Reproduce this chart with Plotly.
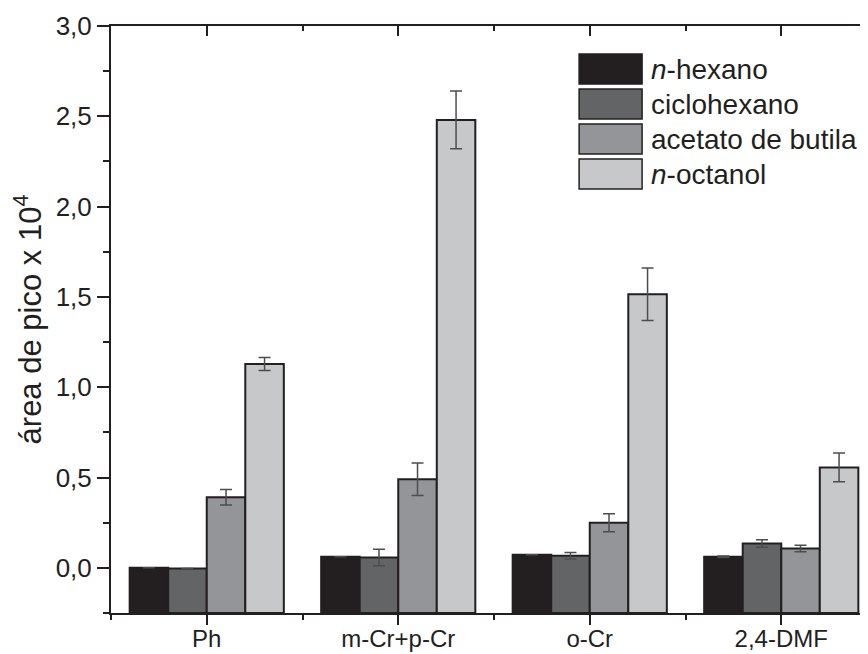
import plotly.graph_objects as go

categories = ["Ph", "m-Cr+p-Cr", "o-Cr", "2,4-DMF"]
series_names = ["<i>n</i>-hexano", "ciclohexano", "acetato de butila", "<i>n</i>-octanol"]
n_hexano = [0.0, 0.061, 0.072, 0.061]
n_hexano_err = [0.0, 0.0, 0.0, 0.004]
ciclohexano = [-0.004, 0.057, 0.067, 0.135]
ciclohexano_err = [0.0, 0.046, 0.018, 0.021]
acetato = [0.391, 0.49, 0.25, 0.107]
acetato_err = [0.043, 0.09, 0.05, 0.018]
octanol = [1.128, 2.48, 1.515, 0.556]
octanol_err = [0.036, 0.16, 0.145, 0.08]
y_ticks = [0.0, 0.5, 1.0, 1.5, 2.0, 2.5, 3.0]

colors = ["#231f20", "#636466", "#939598", "#c7c8ca"]
values = [n_hexano, ciclohexano, acetato, octanol]
errors = [n_hexano_err, ciclohexano_err, acetato_err, octanol_err]

BASE = -0.25
YMAX = 3.0

# page body has an 8px margin: layout measured in screen pixels, converted below
OFF = 8
SCR_W, SCR_H = 868, 654
P_LEFT, P_TOP, P_BOTTOM, P_RIGHT = 110.7, 26, 612.7, 877
FIG_W = P_RIGHT - OFF + 8
FIG_H = SCR_H - OFF
ML = P_LEFT - OFF
MT = P_TOP - OFF
MB = FIG_H - (P_BOTTOM - OFF)
MR = FIG_W - (P_RIGHT - OFF)
plot_w = P_RIGHT - P_LEFT
plot_h = P_BOTTOM - P_TOP
x_lo, x_hi = -0.5, len(categories) - 0.5

INK = "#231f20"
FONT = "Liberation Sans, Arial, Helvetica, sans-serif"

xs = list(range(len(categories)))
fig = go.Figure()
for name, vals, errs, col in zip(series_names, values, errors, colors):
    fig.add_trace(go.Bar(
        x=xs, y=[v - BASE for v in vals], base=BASE, name=name,
        marker=dict(color=col, line=dict(color=INK, width=2)),
        error_y=dict(type="data", array=errs, visible=True, color="#4d4d4f",
                     thickness=1.5, width=6),
        showlegend=False,
    ))
# invisible helper so that the mirrored top/right axes are drawn
fig.add_trace(go.Scatter(x=xs, y=octanol, xaxis="x2", yaxis="y2", mode="markers",
                         marker=dict(opacity=0), hoverinfo="skip", showlegend=False))

fig.update_layout(
    width=FIG_W, height=FIG_H,
    margin=dict(l=ML, r=MR, t=MT, b=MB, autoexpand=False),
    barmode="group", bargap=0.195, bargroupgap=0,
    plot_bgcolor="white", paper_bgcolor="white",
    separators=",.",
    font=dict(family=FONT, color=INK, size=26),
    xaxis=dict(
        range=[x_lo, x_hi], tickmode="array", tickvals=xs, ticktext=categories,
        ticks="outside", ticklen=10, tickwidth=2, tickcolor=INK,
        showline=True, linewidth=2, linecolor=INK, showgrid=False, zeroline=False,
        tickfont=dict(size=24), ticklabelstandoff=-7,
        minor=dict(tickmode="linear", tick0=0.5, dtick=1, ticks="outside",
                   ticklen=5, tickwidth=2, tickcolor=INK, showgrid=False),
    ),
    xaxis2=dict(
        overlaying="x", side="top", anchor="y", range=[x_lo, x_hi],
        tickmode="array", tickvals=xs, showticklabels=False,
        ticks="inside", ticklen=10, tickwidth=2, tickcolor=INK,
        showline=True, linewidth=2, linecolor=INK, showgrid=False, zeroline=False,
        minor=dict(tickmode="linear", tick0=0.5, dtick=1, ticks="inside",
                   ticklen=5, tickwidth=2, tickcolor=INK, showgrid=False),
    ),
    yaxis=dict(
        range=[BASE, YMAX], tickmode="array", tickvals=y_ticks, tickformat=".1f",
        ticks="outside", ticklen=12, tickwidth=2, tickcolor=INK,
        showline=True, linewidth=2, linecolor=INK, showgrid=False, zeroline=False,
        tickfont=dict(size=26),
        minor=dict(tickmode="linear", tick0=0.25, dtick=0.5, ticks="outside",
                   ticklen=6, tickwidth=2, tickcolor=INK, showgrid=False),
        title=dict(text="área de pico x 10<sup>4</sup>", font=dict(size=31), standoff=16),
    ),
    yaxis2=dict(
        overlaying="y", side="right", anchor="x", range=[BASE, YMAX],
        tickmode="array", tickvals=y_ticks, showticklabels=False,
        ticks="inside", ticklen=12, tickwidth=2, tickcolor=INK,
        showline=True, linewidth=2, linecolor=INK, showgrid=False, zeroline=False,
        minor=dict(tickmode="linear", tick0=0.25, dtick=0.5, ticks="inside",
                   ticklen=6, tickwidth=2, tickcolor=INK, showgrid=False),
    ),
)

# custom legend with large swatches, positioned in screen pixels
def px_x(p):
    return (p - P_LEFT) / plot_w
def px_y(p):
    return (P_BOTTOM - p) / plot_h

sw_x0, sw_x1, sw_top, sw_h, sw_step, txt_x = 579, 642, 54, 30, 35, 649
for i, (name, col) in enumerate(zip(series_names, colors)):
    top = sw_top + i * sw_step
    fig.add_shape(type="rect", xref="paper", yref="paper",
                  x0=px_x(sw_x0), x1=px_x(sw_x1), y0=px_y(top + sw_h), y1=px_y(top),
                  fillcolor=col, line=dict(color=INK, width=1.5))
    fig.add_annotation(xref="paper", yref="paper", x=px_x(txt_x), y=px_y(top + sw_h / 2),
                       text=name, showarrow=False, xanchor="left", yanchor="middle",
                       font=dict(size=28, color=INK))

fig.write_html("out.html")
